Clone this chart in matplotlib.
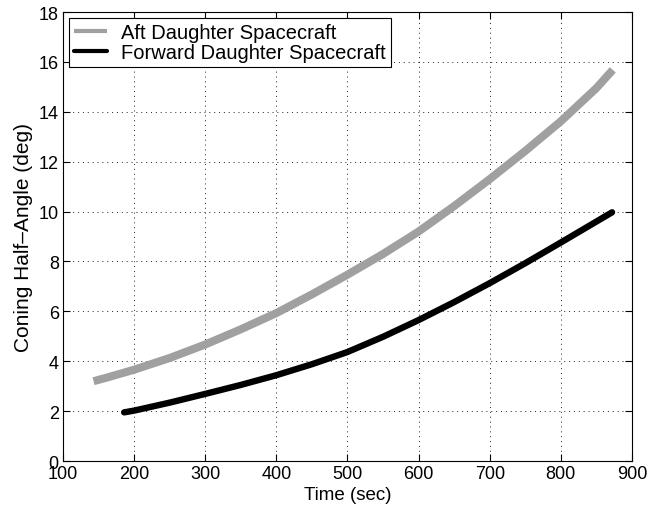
import numpy as np
import matplotlib.pyplot as plt

plt.rcParams['font.family'] = ['Liberation Sans', 'DejaVu Sans']

# values
aft_t = [143, 160, 200, 250, 300, 350, 400, 450, 500, 550, 600, 650, 700, 750, 800, 850, 873]
aft_deg = [3.2, 3.33, 3.66, 4.13, 4.67, 5.28, 5.93, 6.68, 7.47, 8.3, 9.2, 10.22, 11.3, 12.43, 13.62, 14.95, 15.68]

fwd_t = [186, 200, 250, 300, 350, 400, 450, 500, 550, 600, 650, 700, 750, 800, 850, 872]
fwd_deg = [1.95, 2.02, 2.34, 2.69, 3.05, 3.44, 3.88, 4.37, 4.98, 5.65, 6.37, 7.13, 7.93, 8.76, 9.6, 9.97]

x_ticks = [100, 200, 300, 400, 500, 600, 700, 800, 900]
y_ticks = [0, 2, 4, 6, 8, 10, 12, 14, 16, 18]

fig = plt.figure(figsize=(6.63, 5.10), dpi=100)
ax = fig.add_axes([0.0950, 0.0941, 0.8582, 0.8804])

ax.plot(aft_t, aft_deg, color='#a0a0a0', linewidth=5.8, solid_capstyle='butt',
        label='Aft Daughter Spacecraft')
ax.plot(fwd_t, fwd_deg, color='black', linewidth=4.6, solid_capstyle='round',
        label='Forward Daughter Spacecraft')

ax.set_xlim(100, 900)
ax.set_ylim(0, 18)
ax.set_xticks(x_ticks)
ax.set_yticks(y_ticks)
ax.tick_params(direction='in', top=True, right=True, labelsize=13, length=5, pad=3)
ax.grid(True, color='#222222', linestyle=(0, (1, 4)), linewidth=0.7)
for s in ax.spines.values():
    s.set_linewidth(0.8)

ax.set_xlabel('Time (sec)', fontsize=13.5, labelpad=3)
ax.set_ylabel('Coning Half\u2013Angle (deg)', fontsize=15, labelpad=4)

leg = ax.legend(loc='upper left', fontsize=14.5, fancybox=False, framealpha=1,
                edgecolor='black', borderaxespad=0.3, handlelength=1.65,
                handletextpad=0.7, labelspacing=0.05, borderpad=0.25)
leg.get_frame().set_linewidth(0.8)
for h in leg.legend_handles:
    h.set_linewidth(3)

fig.savefig('out.png', dpi=100)
